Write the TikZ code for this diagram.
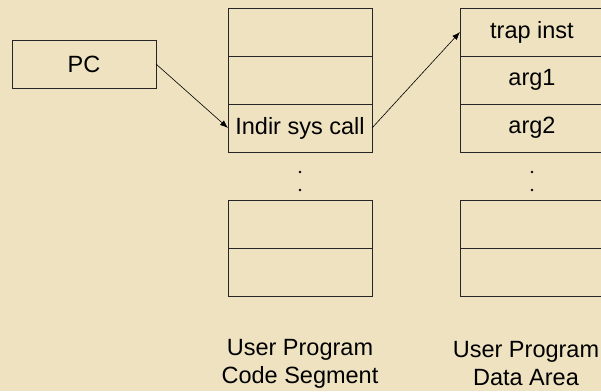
\documentclass[tikz,border=0pt]{standalone}
\usepackage{fontspec}
\setmainfont{Liberation Sans}
\usetikzlibrary{arrows.meta}
\definecolor{parchment}{RGB}{238,226,192}
\tikzset{
  cell/.style={draw=black!85, line width=0.8pt, minimum width=144pt, minimum height=48pt,
    inner sep=0pt, outer sep=0pt, font=\fontsize{23.5}{28}\selectfont},
  link/.style={line width=0.6pt, -{Latex[length=8pt,width=6pt]}},
  caption/.style={align=center, font=\fontsize{23.5}{28}\selectfont, inner sep=0pt},
  gap/.style={fill=black, circle, inner sep=0pt, minimum size=2.6pt}
}
\begin{document}
\begin{tikzpicture}[x=1pt, y=-1pt]
  \useasboundingbox (0,0) rectangle (601,391);
  \clip (0,0) rectangle (601,391);
  \fill[parchment] (0,0) rectangle (601,391);

  % program counter
  \node[cell] (pc) at (84,64) {PC};

  % code segment
  \node[cell] (c1) at (300,32) {};
  \node[cell] (c2) at (300,80) {};
  \node[cell] (c3) at (300,128) {Indir sys call};
  \node[gap] (cg1) at (300,172) {};
  \node[gap] (cg2) at (300,190) {};
  \node[cell] (c4) at (300,224) {};
  \node[cell] (c5) at (300,272) {};

  % data area
  \node[cell] (d1) at (532,32) {trap inst};
  \node[cell] (d2) at (532,80) {arg1};
  \node[cell] (d3) at (532,128) {arg2};
  \node[gap] (dg1) at (532,172) {};
  \node[gap] (dg2) at (532,190) {};
  \node[cell] (d4) at (532,224) {};
  \node[cell] (d5) at (532,272) {};

  % captions
  \node[caption] (cc) at (300,364) {User Program\\Code Segment};
  \node[caption] (dc) at (526,364) {User Program\\Data Area};

  % pointers
  \draw[link] (pc.east) -- (c3.west);
  \draw[link] (c3.east) -- (d1.west);
\end{tikzpicture}
\end{document}
